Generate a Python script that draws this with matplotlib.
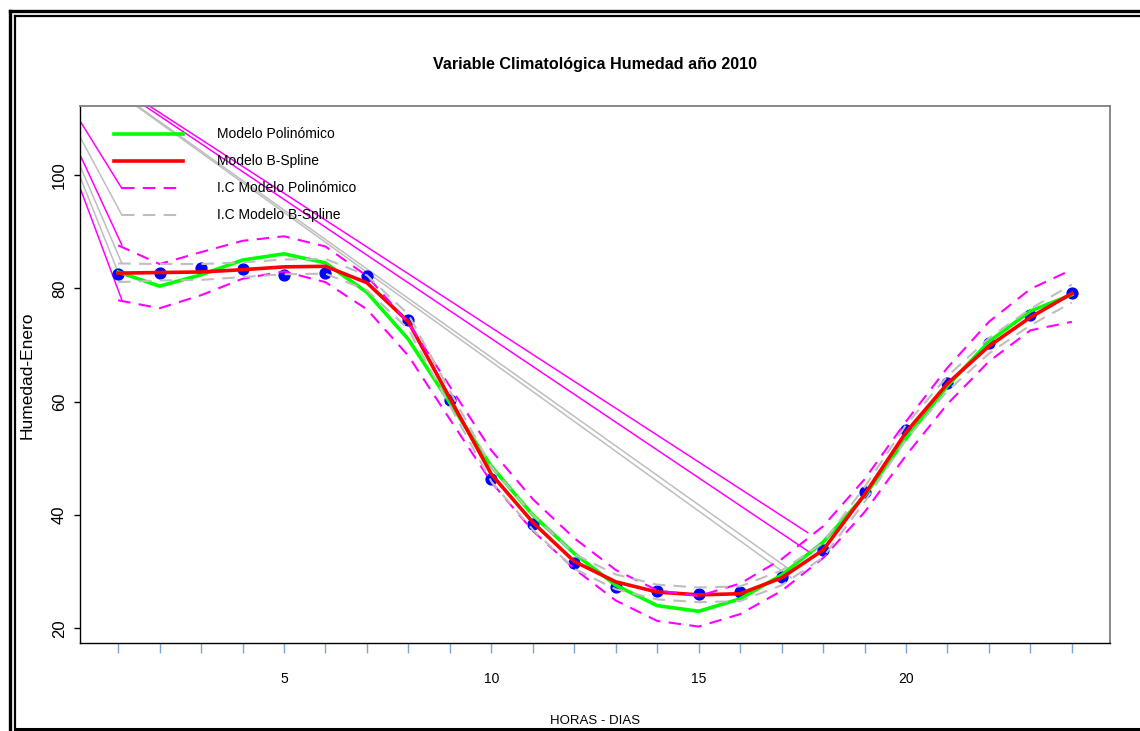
"""
Variable Climatológica Humedad año 2010
Puntos observados, modelo polinómico, modelo B-spline y sus intervalos de confianza.
"""

import matplotlib

matplotlib.use("Agg")
import matplotlib.pyplot as plt
from matplotlib.lines import Line2D

# ── Datos ──
hours = list(range(1, 25))
humidity = [82.5, 82.7, 83.6, 83.4, 82.4, 82.7, 82.2, 74.4, 60.3, 46.4, 38.4, 31.5,
            27.3, 26.6, 26.1, 26.4, 29.1, 33.8, 44.1, 55.0, 63.3, 70.4, 75.3, 79.2]

poly_fit = [82.9, 80.4, 82.4, 85.0, 86.1, 84.5, 79.3, 71.0, 59.8, 48.6, 40.0, 33.2,
            27.6, 24.0, 23.0, 25.2, 29.4, 35.2, 43.4, 53.5, 62.8, 70.6, 76.0, 78.9]
poly_upper = [87.6, 84.3, 86.4, 88.4, 89.2, 87.4, 82.2, 73.9, 62.7, 51.4, 42.8, 35.9,
              30.3, 26.7, 25.7, 27.9, 32.2, 38.0, 46.3, 56.5, 66.0, 74.1, 79.9, 83.3]
poly_lower = [77.9, 76.5, 78.8, 81.7, 83.0, 81.1, 76.3, 68.1, 56.9, 45.8, 37.2, 30.5,
              24.9, 21.3, 20.3, 22.5, 26.6, 32.4, 40.5, 50.5, 59.6, 67.1, 72.6, 74.1]

spline_fit = [82.7, 82.8, 82.9, 83.3, 83.8, 83.9, 81.0, 74.1, 60.6, 47.2, 38.7, 31.8,
              28.2, 26.4, 25.9, 26.1, 28.9, 33.8, 43.6, 54.6, 63.2, 69.8, 74.9, 79.1]
spline_upper = [84.4, 84.3, 84.3, 84.6, 85.1, 85.2, 82.3, 75.4, 61.9, 48.5, 40.0, 33.1,
                29.5, 27.7, 27.2, 27.4, 30.2, 35.1, 44.9, 55.9, 64.5, 71.2, 76.4, 80.7]
spline_lower = [81.1, 81.4, 81.5, 82.0, 82.5, 82.6, 79.7, 72.8, 59.3, 45.9, 37.4, 30.5,
                26.9, 25.1, 24.6, 24.8, 27.6, 32.5, 42.3, 53.3, 61.9, 68.5, 73.5, 77.5]

# líneas sueltas que salen de un mismo punto (fuera del área de dibujo)
stray_origin = (-1.42, 127.26)
stray_end_x = [1.09, 1.09, 1.09, 1.09, 1.09, 1.09, 17.63, 17.71, 17.14, 17.24]
stray_end_y = [97.65, 92.94, 87.65, 84.42, 81.18, 77.94, 36.88, 33.25, 30.65, 28.89]
stray_kind = ["poly", "spline", "poly", "spline", "spline", "poly",
              "poly", "poly", "spline", "spline"]

legend_labels = ["Modelo Polinómico", "Modelo B-Spline",
                 "I.C Modelo Polinómico", "I.C Modelo B-Spline"]

# ── Estilo ──
W, H = 1140, 731
FONT = ["Liberation Sans", "DejaVu Sans"]
GREEN = "#00ff00"
RED = "#ff0000"
MAGENTA = "#ff00ff"
GREY = "#bebebe"
DASH = (0, (6, 4))
CI_COLOR = {"poly": MAGENTA, "spline": GREY}


def fx(px):
    return px / W


def fy(py):
    return 1 - py / H


fig = plt.figure(figsize=(W / 100, H / 100), dpi=100)
fig.patch.set_facecolor("white")
ax = fig.add_axes([fx(80), fy(643), fx(1110) - fx(80), fy(106) - fy(643)])
ax.set_xlim(0.08, 24.92)
ax.set_ylim(17.4, 112.2)

# ── Líneas sueltas ──
for ex, ey, kind in zip(stray_end_x, stray_end_y, stray_kind):
    ax.plot([stray_origin[0], ex], [stray_origin[1], ey], color=CI_COLOR[kind],
            lw=1.1, zorder=1)

# ── Series ──
ax.plot(hours, humidity, "o", color="#0000ff", ms=7.8, zorder=2)
ax.plot(hours, poly_fit, color=GREEN, lw=2.6, zorder=3)
ax.plot(hours, spline_fit, color=RED, lw=2.6, zorder=4)
ax.plot(hours, poly_upper, color=MAGENTA, lw=1.5, ls=DASH, zorder=5)
ax.plot(hours, poly_lower, color=MAGENTA, lw=1.5, ls=DASH, zorder=5)
ax.plot(hours, spline_upper, color=GREY, lw=1.5, ls=DASH, zorder=6)
ax.plot(hours, spline_lower, color=GREY, lw=1.5, ls=DASH, zorder=6)

# ── Leyenda (en coordenadas de datos, sin marco) ──
leg_y = [107.32, 102.47, 97.65, 92.94]
leg_style = [(GREEN, "-", 0.904), (RED, "-", 0.904),
             (MAGENTA, DASH, 1.089), (GREY, DASH, 1.089)]
for y, (col, ls, x0), lab in zip(leg_y, leg_style, legend_labels):
    lw = 2.6 if ls == "-" else 1.5
    ax.plot([x0, 2.566], [y, y], color=col, ls=ls, lw=lw, zorder=7)
    ax.text(3.386, y, lab, ha="left", va="center", fontsize=10,
            family=FONT, color="black", zorder=8)

# ── Ejes ──
for side in ("left", "bottom"):
    ax.spines[side].set_color("black")
    ax.spines[side].set_linewidth(1.0)
for side in ("top", "right"):
    ax.spines[side].set_color("#808080")
    ax.spines[side].set_linewidth(1.3)

ax.set_xticks(hours)
ax.set_xticklabels([str(h) if h % 5 == 0 else "" for h in hours])
ax.tick_params(axis="x", direction="out", length=7.2, width=1.0,
               color="#7aa6d2", pad=14, labelsize=10)
for lab in ax.get_xticklabels():
    lab.set_family(FONT)

ax.set_yticks([20, 40, 60, 80, 100])
ax.tick_params(axis="y", direction="out", length=4.3, width=1.0,
               color="black", pad=5, labelsize=12)
for lab in ax.get_yticklabels():
    lab.set_family(FONT)
    lab.set_rotation(90)
    lab.set_va("center")

# ── Textos ──
fig.text(fx(595), fy(65), "Variable Climatológica Humedad año 2010",
         ha="center", va="center", fontsize=11.6, fontweight="bold", family=FONT)
fig.text(fx(595), fy(721), "HORAS - DIAS", ha="center", va="center",
         fontsize=9.5, family=FONT)
fig.text(fx(27), fy(375), "Humedad-Enero", ha="center", va="center",
         rotation=90, fontsize=12.5, family=FONT)

# ── Marco doble de la figura ──
for x0, y0, y1, lw in [(10.5, 11.3, 740, 2.4), (14.7, 16.0, 729.3, 1.6)]:
    fig.add_artist(Line2D([fx(x0), fx(x0)], [fy(y0), fy(y1)], color="black",
                          lw=lw, transform=fig.transFigure))
    fig.add_artist(Line2D([fx(x0), fx(1200)], [fy(y0), fy(y0)], color="black",
                          lw=lw, transform=fig.transFigure))
fig.add_artist(Line2D([fx(14.7), fx(1200)], [fy(729.3), fy(729.3)], color="black",
                      lw=2.2, transform=fig.transFigure))

fig.savefig("out.png", dpi=100, facecolor=fig.get_facecolor())
